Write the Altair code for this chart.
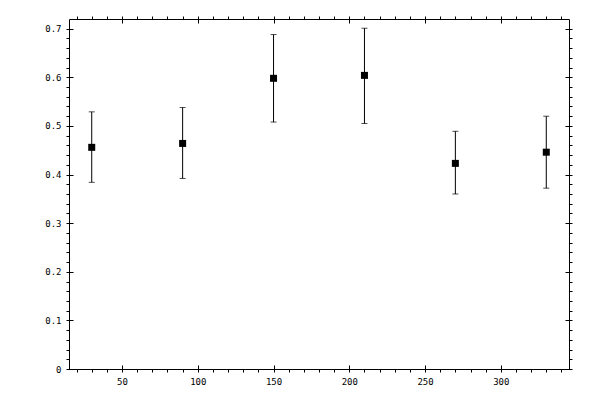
import altair as alt
import pandas as pd

# values
angles = [30, 90, 150, 210, 270, 330]
values = [0.456, 0.464, 0.598, 0.604, 0.423, 0.446]
lower = [0.384, 0.392, 0.508, 0.505, 0.360, 0.372]
upper = [0.529, 0.538, 0.688, 0.701, 0.489, 0.520]

x_major = [50, 100, 150, 200, 250, 300]
x_minor = [v for v in range(20, 341, 10) if v not in x_major]
y_major = [0, 0.1, 0.2, 0.3, 0.4, 0.5, 0.6, 0.7]
y_minor = [round(i * 0.02, 2) for i in range(1, 36) if i % 5 != 0]

df = pd.DataFrame({"angle": angles, "value": values, "lo": lower, "hi": upper})

FONT = "DejaVu Sans Mono"
x_scale = alt.Scale(domain=[15, 345], nice=False, zero=False)
y_scale = alt.Scale(domain=[0, 0.72], nice=False, zero=False)


def minor_axis(orient, vals):
    # domain line plus short outward minor ticks, no labels
    return alt.Axis(orient=orient, values=vals, labels=False, tickSize=3, tickWidth=1,
                    tickColor="black", domain=True, domainColor="black", domainWidth=1,
                    grid=False, title=None)


def major_axis(orient, vals, labels=False, fmt=None):
    # shifted 4px inward so the 7px ticks cross the frame line
    kw = dict(orient=orient, values=vals, offset=-4, tickSize=7, tickWidth=1,
              tickColor="black", domain=False, grid=False, title=None,
              labels=labels, labelFont=FONT, labelFontSize=9, labelColor="black",
              labelPadding=5, labelOverlap=False, labelFlush=False)
    if fmt:
        kw["format"] = fmt
    return alt.Axis(**kw)


base = alt.Chart(df)

bars = base.mark_rule(color="black", strokeWidth=1).encode(
    x=alt.X("angle:Q", scale=x_scale, axis=minor_axis("bottom", x_minor)),
    y=alt.Y("lo:Q", scale=y_scale, axis=minor_axis("left", y_minor)),
    y2="hi:Q",
)

caps_lo = base.mark_tick(color="black", orient="horizontal", size=6, thickness=1).encode(
    x=alt.X("angle:Q", scale=x_scale, axis=minor_axis("top", x_minor)),
    y=alt.Y("lo:Q", scale=y_scale, axis=minor_axis("right", y_minor)),
)

caps_hi = base.mark_tick(color="black", orient="horizontal", size=6, thickness=1).encode(
    x=alt.X("angle:Q", scale=x_scale, axis=major_axis("bottom", x_major, labels=True, fmt="d")),
    y=alt.Y("hi:Q", scale=y_scale, axis=major_axis("left", y_major, labels=True, fmt=".1~f")),
)

points = base.mark_square(color="black", size=49, opacity=1, filled=True).encode(
    x=alt.X("angle:Q", scale=x_scale, axis=major_axis("top", x_major)),
    y=alt.Y("value:Q", scale=y_scale, axis=major_axis("right", y_major)),
)

chart = (
    alt.layer(bars, caps_lo, caps_hi, points)
    .resolve_axis(x="independent", y="independent")
    .properties(
        width=500,
        height=350,
        autosize=alt.AutoSizeParams(type="none"),
        padding={"left": 61, "top": 11, "right": 23, "bottom": 23},
        background="white",
    )
    .configure_view(stroke=None)
)

chart.save("out.html", embed_options={"renderer": "svg", "actions": False})
